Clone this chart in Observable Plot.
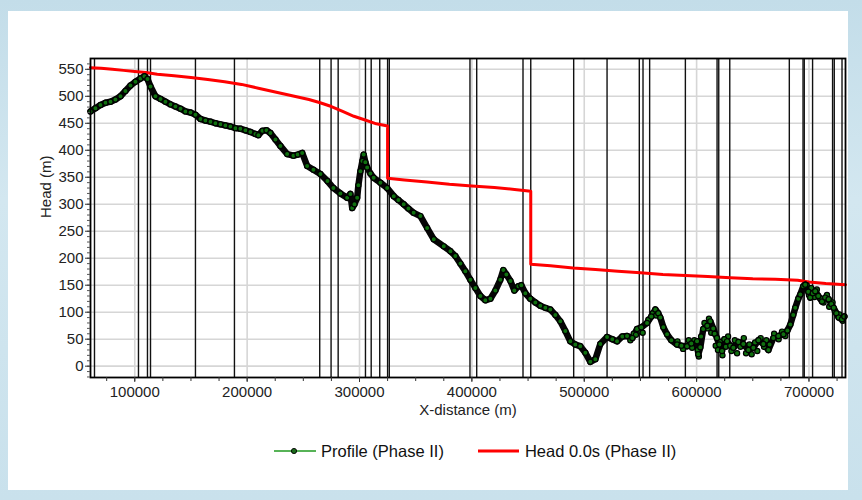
<!DOCTYPE html>
<html>
<head>
<meta charset="utf-8">
<script src="https://cdn.jsdelivr.net/npm/d3@7"></script>
<script src="https://cdn.jsdelivr.net/npm/@observablehq/plot@0.6"></script>
<style>
  html, body { margin: 0; padding: 0; width: 862px; height: 500px; overflow: hidden; }
  body { background: linear-gradient(180deg, #c3dde9 0%, #d3e7f0 40%, #c9e1ec 100%); font-family: "Liberation Sans", Arial, sans-serif; position: relative; }
  #panel { position: absolute; left: 8px; top: 11px; width: 840px; height: 479px; background: #fff; }
  #chart { position: absolute; left: 0; top: 0; }
  #legend { position: absolute; top: 441px; left: 273px; height: 20px; display: flex; align-items: center; font-size: 16.5px; color: #111; white-space: nowrap; }
  #legend .item { display: flex; align-items: center; }
  #legend svg { display: block; }
</style>
</head>
<body>
<div id="panel"></div>
<div id="chart"></div>
<div id="legend"></div>
<script>
// ---- data ----
const profileX = [60600,65000,69500,74000,78400,82800,87300,91700,96200,100600,105100,108600,111300,114000,118400,122900,127300,131800,136200,140700,145100,149600,154000,158500,162900,167400,171800,176300,180700,185100,189600,194000,198500,202900,207400,210000,213600,217200,220700,225200,229600,235600,241200,245000,249000,253400,259000,265200,271500,276800,283000,289000,291900,293500,295500,297900,299000,300800,302600,303700,305200,306800,309700,312600,318600,324600,330500,334600,339300,343500,348200,354200,360200,366100,375000,380900,385300,389800,394200,398700,403100,407600,412000,416500,420900,425300,428000,430700,434300,437800,441400,444000,447600,452000,456500,460900,465400,469800,474300,478700,483200,487600,492100,496500,501000,505400,509900,514300,520300,525000,529200,533900,538100,542800,547000,550800,555900,559700,563300,565900,567700,570400,573700,577500,582600,586500,591500,595300,600400,601500,603300,605900,609500,612200,614800,618100,620200,622600,624700,627100,630000,632700,637200,641600,646100,650500,655000,659400,663900,668300,672800,677300,680800,683400,686000,687800,690500,692300,694900,696700,699400,701100,703400,705600,708300,711600,714500,717500,719900,722000,724400,726400,729400,731500];
const profileY = [472,478,484,488,490,494,500,510,520,527,533,537,532,518,500,495,490,485,481,477,472,470,466,458,455,453,450,448,446,444,441,440,437,434,430,428,436,437,432,420,408,393,390,392,395,371,364,356,343,330,320,312,319,293,300,312,335,361,380,392,378,368,357,349,340,330,315,308,300,292,284,278,256,235,222,213,204,190,176,160,145,130,122,125,140,160,178,170,158,140,148,150,135,125,118,112,108,105,95,83,65,46,40,37,25,8,13,41,54,50,46,55,56,52,69,72,80,92,105,98,90,72,59,48,40,38,37,42,46,22,35,69,75,83,70,52,40,28,50,46,38,34,45,41,30,34,48,41,30,52,56,59,66,77,95,108,125,133,148,151,138,127,135,139,130,120,127,124,115,108,98,90,87,92];

// scattered profile points in the noisy stretches
const scatterX = [541000,544000,546000,549000,552000,557000,561000,564000,583000,588000,593000,596000,598000,601000,602000,604000,607000,610000,611000,613000,616000,617000,619000,621000,623000,626000,628000,631000,634000,636000,639000,642000,644000,647000,649000,652000,654000,657000,660000,662000,665000,669000,673000,676000,679000,698000,700000,702000,705000,707000,710000,713000,716000,718000,721000,723000,727000,730000];
const scatterY = [48,60,58,66,62,86,98,94,46,32,48,34,48,30,18,55,80,70,88,62,60,38,30,45,20,36,55,28,48,24,36,52,24,40,22,44,28,52,36,48,40,60,50,64,56,150,132,145,128,142,126,118,132,110,118,102,96,84];

const headX = [60600,70000,80000,90000,100000,110000,120000,135000,150000,165000,180000,195000,210000,225000,240000,255000,265000,275000,285000,295000,305000,315000,325000,325000,340000,360000,380000,400000,420000,440000,452400,452400,470000,490000,510000,530000,550000,570000,590000,610000,630000,650000,670000,690000,700000,715000,732500];
const headY = [553,552,550,548,546,544,541,538,535,531,527,522,515,508,501,494,488,481,472,463,456,449,445,348,345,341,337,334,331,327,324,189,186,182,179,176,173,170,168,166,164,162,161,159,156,153,151];

const structureX = [64150,103300,111300,114000,154000,188700,264600,274700,281000,305300,310400,318000,325000,326500,398300,404300,445500,452400,490600,520300,549000,552300,558200,590000,618200,619700,629500,682500,694700,695800,703200,721000,722500,729400];

const xTicks = [100000,200000,300000,400000,500000,600000,700000];
const xMinorTicks = [75000,100000,125000,150000,175000,200000,225000,250000,275000,300000,325000,350000,375000,400000,425000,450000,475000,500000,525000,550000,575000,600000,625000,650000,675000,700000,725000];
const yTicks = [0,50,100,150,200,250,300,350,400,450,500,550];
const yMinorTicks = [-20,-10,0,10,20,30,40,50,60,70,80,90,100,110,120,130,140,150,160,170,180,190,200,210,220,230,240,250,260,270,280,290,300,310,320,330,340,350,360,370,380,390,400,410,420,430,440,450,460,470,480,490,500,510,520,530,540,550,560];

const seriesNames = ["Profile (Phase II)", "Head 0.0s (Phase II)"];
const axisLabels = {x: "X-distance (m)", y: "Head (m)"};

// ---- tables ----
const profile = profileX.map((x, i) => ({x, y: profileY[i]}));
const scatter = scatterX.map((x, i) => ({x, y: scatterY[i]}));
const head = headX.map((x, i) => ({x, y: headY[i]}));
const fmt = d3.format("d");

const chart = Plot.plot({
  width: 862,
  height: 425,
  marginLeft: 90,
  marginRight: 17,
  marginTop: 58,
  marginBottom: 48,
  style: {background: "transparent", fontFamily: "'Liberation Sans', Arial, sans-serif", fontSize: "15px", color: "#222", overflow: "visible"},
  x: {domain: [60600, 732500]},
  y: {domain: [-21, 570]},
  marks: [
    Plot.gridX(xTicks, {stroke: "#d6d6d6", strokeOpacity: 1, strokeWidth: 1.6}),
    Plot.gridY(yTicks, {stroke: "#d6d6d6", strokeOpacity: 1, strokeWidth: 1.6}),
    Plot.ruleX(structureX, {stroke: "#111", strokeWidth: 1.4}),
    Plot.line(head, {x: "x", y: "y", stroke: "#ff0000", strokeWidth: 3}),
    Plot.line(profile, {x: "x", y: "y", stroke: "#050505", strokeWidth: 6.5, strokeLinejoin: "round"}),
    Plot.dot(scatter, {x: "x", y: "y", r: 2.6, fill: "#0f700f", stroke: "#000", strokeWidth: 1.2}),
    Plot.dot(profile, {x: "x", y: "y", r: 2.6, fill: "#0f700f", stroke: "#000", strokeWidth: 1.2}),
    Plot.frame({stroke: "#000", strokeWidth: 1.8}),
    Plot.axisX(xMinorTicks, {tickSize: 4, tickFormat: () => "", label: null, stroke: "#333"}),
    Plot.axisX(xTicks, {tickSize: 5, tickPadding: 4, tickFormat: fmt, label: null, fontSize: 15, fill: "#222", stroke: "#333"}),
    Plot.axisY(yMinorTicks.filter(d => d >= -20), {tickSize: 3, tickFormat: () => "", label: null, stroke: "#555"}),
    Plot.axisY(yTicks, {tickSize: 5, tickPadding: 2, tickFormat: fmt, label: null, fontSize: 15, fill: "#222", stroke: "#333"}),
    Plot.text([axisLabels.y], {frameAnchor: "left", dx: -44, rotate: -90, fontSize: 15, fill: "#222"}),
    Plot.text([axisLabels.x], {frameAnchor: "bottom", dy: 37, fontSize: 15, fill: "#222"})
  ]
});
document.getElementById("chart").appendChild(chart);

// ---- legend ----
const legend = document.getElementById("legend");
legend.innerHTML = `
  <div class="item">
    <svg width="44" height="12"><line x1="1" y1="6" x2="43" y2="6" stroke="#1f9a1f" stroke-width="1.6"/><circle cx="21" cy="6" r="2.6" fill="#1b6a1b" stroke="#000" stroke-width="0.9"/></svg>
    <span style="margin-left:4px">${seriesNames[0]}</span>
  </div>
  <div class="item" style="margin-left:34px">
    <svg width="42" height="12"><line x1="0" y1="6" x2="41" y2="6" stroke="#ff0000" stroke-width="3"/></svg>
    <span style="margin-left:5px">${seriesNames[1]}</span>
  </div>`;
</script>
</body>
</html>
